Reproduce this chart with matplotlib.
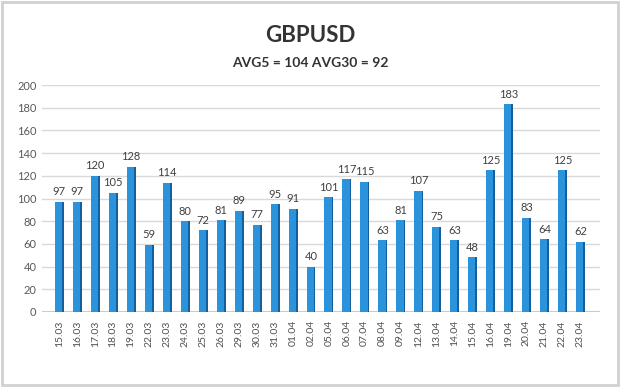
import matplotlib
matplotlib.use("Agg")
import matplotlib.pyplot as plt
from matplotlib.patches import Rectangle
import numpy as np

plt.rcParams['font.family'] = ['Lato', 'DejaVu Sans']

dates = ["15.03", "16.03", "17.03", "18.03", "19.03", "22.03", "23.03", "24.03", "25.03", "26.03",
         "29.03", "30.03", "31.03", "01.04", "02.04", "05.04", "06.04", "07.04", "08.04", "09.04",
         "12.04", "13.04", "14.04", "15.04", "16.04", "19.04", "20.04", "21.04", "22.04", "23.04"]
values = [97, 97, 120, 105, 128, 59, 114, 80, 72, 81,
          89, 77, 95, 91, 40, 101, 117, 115, 63, 81,
          107, 75, 63, 48, 125, 183, 83, 64, 125, 62]
title = "GBPUSD"
subtitle = "AVG5 = 104 AVG30 = 92"
yticks = [0, 20, 40, 60, 80, 100, 120, 140, 160, 180, 200]

fig = plt.figure(figsize=(6.2, 3.87), dpi=100)
fig.patch.set_facecolor('white')
# outer frame
fig.add_artist(Rectangle((0.003, 0.004), 0.994, 0.992, transform=fig.transFigure,
                         fill=False, edgecolor='#d0d0d0', linewidth=2))

ax = fig.add_axes([0.068, 0.194, 0.90, 0.586])
x = np.arange(len(values))
ax.bar(x - 0.03, values, width=0.42, color='#2b93dc', zorder=3)
ax.bar(x + 0.21, values, width=0.1, color='#145f9c', zorder=3)

for xi, v in zip(x, values):
    ax.text(xi, v + 4, str(v), ha='center', va='bottom', fontsize=8, color='#404040')

ax.set_xlim(-0.95, 30.1)
ax.set_ylim(0, 200)
ax.set_yticks(yticks)
ax.set_yticklabels([str(t) for t in yticks], fontsize=8, color='#595959')
ax.set_xticks(x)
ax.set_xticklabels(dates, rotation=90, fontsize=7.5, color='#505050')
ax.tick_params(axis='both', length=0, pad=6)
ax.tick_params(axis='y', pad=4)
ax.grid(axis='y', color='#d9d9d9', linewidth=1, zorder=0)
for s in ax.spines.values():
    s.set_visible(False)
ax.axhline(0, color='#c8c8c8', linewidth=1.5, zorder=1)

fig.text(0.5, 0.908, title, ha='center', va='center', fontsize=16, fontweight='bold', color='#333333')
fig.text(0.5, 0.838, subtitle, ha='center', va='center', fontsize=10, fontweight='bold', color='#333333')

fig.savefig("out.png", dpi=100, facecolor='white')
